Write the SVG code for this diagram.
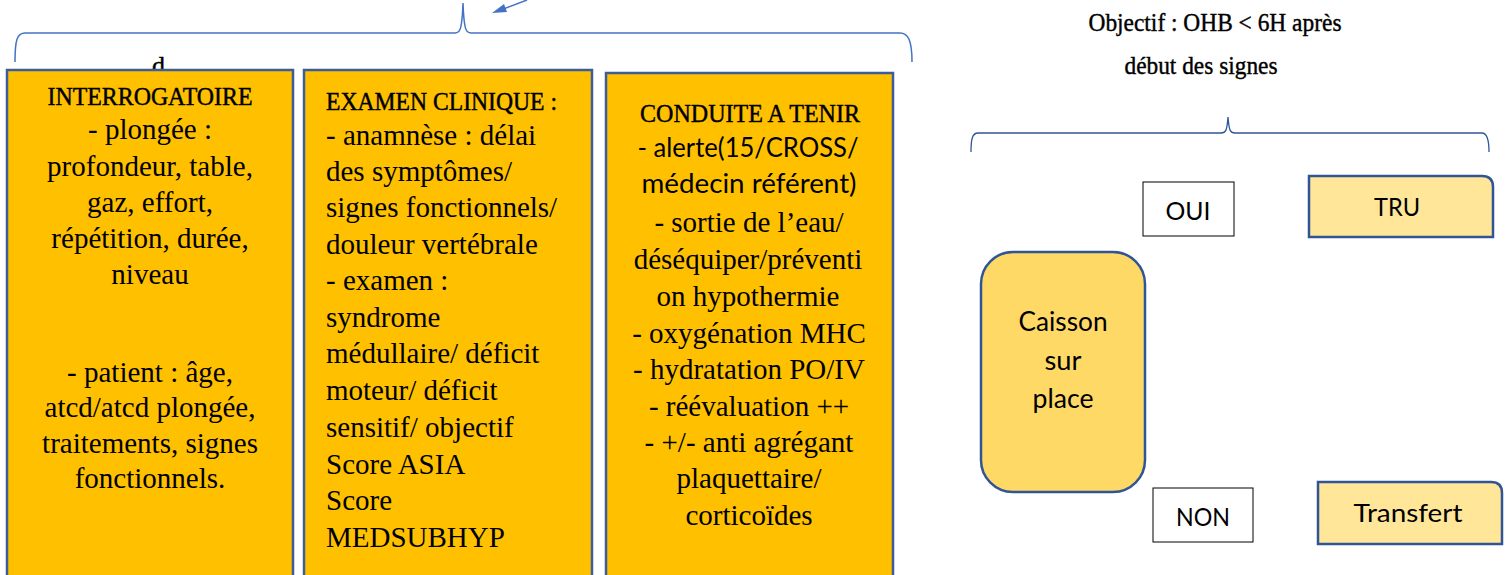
<svg xmlns="http://www.w3.org/2000/svg" width="1512" height="575" viewBox="0 0 1512 575">
<style>
.serif{font-family:"Liberation Serif","Times New Roman",serif;fill:#000}
.sans{font-family:Lato,"Noto Sans","Liberation Sans",sans-serif;fill:#000}
.body{font-size:29px}
.head{font-size:25px;stroke:#000;stroke-width:0.45}
.mid{text-anchor:middle}
.main{fill:#FFC000;stroke:#3B5E98;stroke-width:2.5}
.light{fill:#FFE699;stroke:#2F5597;stroke-width:2.5}
.gold{fill:#FFD966;stroke:#2F5597;stroke-width:2.5}
.plain{fill:#fff;stroke:#000;stroke-width:1}
.brace{fill:none;stroke:#4472C4;stroke-width:1.5}
.brace2{fill:none;stroke:#2F5597;stroke-width:1.3}
</style>
<rect width="1512" height="575" fill="#fff"/>

<g id="connectors">
<path class="brace" d="M15,62 C15,40 17,33 25,33 L455,33 C460,33 462,30 463,3 C464,30 466,33 471,33 L900,33 C908,33 912,40 912,62"/>
<path d="M527,0 L498,11" stroke="#4472C4" stroke-width="1.5" fill="none"/>
<path d="M492,13 L504,4 L507,12 z" fill="#4472C4"/>
<path class="brace2" d="M971,152 C971,140 972,133 978,133 L1221,133 C1226,133 1227,130 1228,117 C1229,130 1230,133 1235,133 L1482,133 C1487,133 1489,140 1489,152"/>
</g>

<text class="serif" x="152" y="74" font-size="26" stroke="#000" stroke-width="0.4">d</text>

<g id="interrogatoire">
<rect class="main" x="7" y="70" width="286" height="520"/>
<text class="serif head mid" x="150" y="105" textLength="205" lengthAdjust="spacingAndGlyphs">INTERROGATOIRE</text>
<text class="serif body mid" x="150" y="139">- plongée :</text>
<text class="serif body mid" x="150" y="176">profondeur, table,</text>
<text class="serif body mid" x="150" y="212">gaz, effort,</text>
<text class="serif body mid" x="150" y="248">répétition, durée,</text>
<text class="serif body mid" x="150" y="284">niveau</text>
<text class="serif body mid" x="150" y="382">- patient : âge,</text>
<text class="serif body mid" x="150" y="417">atcd/atcd plongée,</text>
<text class="serif body mid" x="150" y="453">traitements, signes</text>
<text class="serif body mid" x="150" y="488">fonctionnels.</text>
</g>

<g id="examen">
<rect class="main" x="304" y="70" width="288" height="520"/>
<text class="serif head" x="326" y="110" textLength="231" lengthAdjust="spacingAndGlyphs">EXAMEN CLINIQUE :</text>
<text class="serif body" x="326" y="145">- anamnèse : délai</text>
<text class="serif body" x="326" y="181">des symptômes/</text>
<text class="serif body" x="326" y="217">signes fonctionnels/</text>
<text class="serif body" x="326" y="254">douleur vertébrale</text>
<text class="serif body" x="326" y="290">- examen :</text>
<text class="serif body" x="326" y="327">syndrome</text>
<text class="serif body" x="326" y="363">médullaire/ déficit</text>
<text class="serif body" x="326" y="400">moteur/ déficit</text>
<text class="serif body" x="326" y="437">sensitif/ objectif</text>
<text class="serif body" x="326" y="474">Score ASIA</text>
<text class="serif body" x="326" y="510">Score</text>
<text class="serif body" x="326" y="547">MEDSUBHYP</text>
</g>

<g id="conduite">
<rect class="main" x="606" y="73" width="287" height="520"/>
<text class="serif head mid" x="750" y="122" textLength="220" lengthAdjust="spacingAndGlyphs">CONDUITE A TENIR</text>
<text class="sans mid" x="748" y="157" font-size="26" textLength="221" lengthAdjust="spacingAndGlyphs">- alerte(15/CROSS/</text>
<text class="sans mid" x="749" y="193" font-size="26" textLength="215" lengthAdjust="spacingAndGlyphs">médecin référent)</text>
<text class="serif body mid" x="749" y="232">- sortie de l’eau/</text>
<text class="serif body mid" x="748" y="269">déséquiper/préventi</text>
<text class="serif body mid" x="748" y="306">on hypothermie</text>
<text class="serif body mid" x="749" y="343">- oxygénation MHC</text>
<text class="serif body mid" x="749" y="379">- hydratation PO/IV</text>
<text class="serif body mid" x="749" y="416">- réévaluation ++</text>
<text class="serif body mid" x="749" y="452">- +/- anti agrégant</text>
<text class="serif body mid" x="749" y="488">plaquettaire/</text>
<text class="serif body mid" x="749" y="525">corticoïdes</text>
</g>

<g id="objectif">
<text class="serif mid" x="1215" y="31" font-size="25" stroke="#000" stroke-width="0.4" textLength="253" lengthAdjust="spacingAndGlyphs">Objectif : OHB &lt; 6H après</text>
<text class="serif mid" x="1201" y="74" font-size="25" stroke="#000" stroke-width="0.4" textLength="153" lengthAdjust="spacingAndGlyphs">début des signes</text>
</g>

<g id="oui">
<rect class="plain" x="1143" y="182" width="91" height="54"/>
<text class="sans mid" x="1188" y="220" font-size="25" textLength="45" lengthAdjust="spacingAndGlyphs">OUI</text>
</g>

<g id="tru">
<path class="light" d="M1309,176 L1482,176 Q1493,176 1493,187 L1493,237 L1309,237 Z"/>
<text class="sans mid" x="1397" y="216" font-size="25" textLength="46" lengthAdjust="spacingAndGlyphs">TRU</text>
</g>

<g id="caisson">
<rect class="gold" x="981" y="252" width="164" height="240" rx="32" ry="32"/>
<text class="sans mid" x="1063" y="331" font-size="26" textLength="89" lengthAdjust="spacingAndGlyphs">Caisson</text>
<text class="sans mid" x="1063" y="370" font-size="26" textLength="37" lengthAdjust="spacingAndGlyphs">sur</text>
<text class="sans mid" x="1063" y="408" font-size="26" textLength="61" lengthAdjust="spacingAndGlyphs">place</text>
</g>

<g id="non">
<rect class="plain" x="1153" y="488" width="100" height="54"/>
<text class="sans mid" x="1203" y="526" font-size="25" textLength="54" lengthAdjust="spacingAndGlyphs">NON</text>
</g>

<g id="transfert">
<path class="light" d="M1318,482 L1491,482 Q1502,482 1502,493 L1502,544 L1318,544 Z"/>
<text class="sans mid" x="1408" y="522" font-size="25" textLength="109" lengthAdjust="spacingAndGlyphs">Transfert</text>
</g>
</svg>
